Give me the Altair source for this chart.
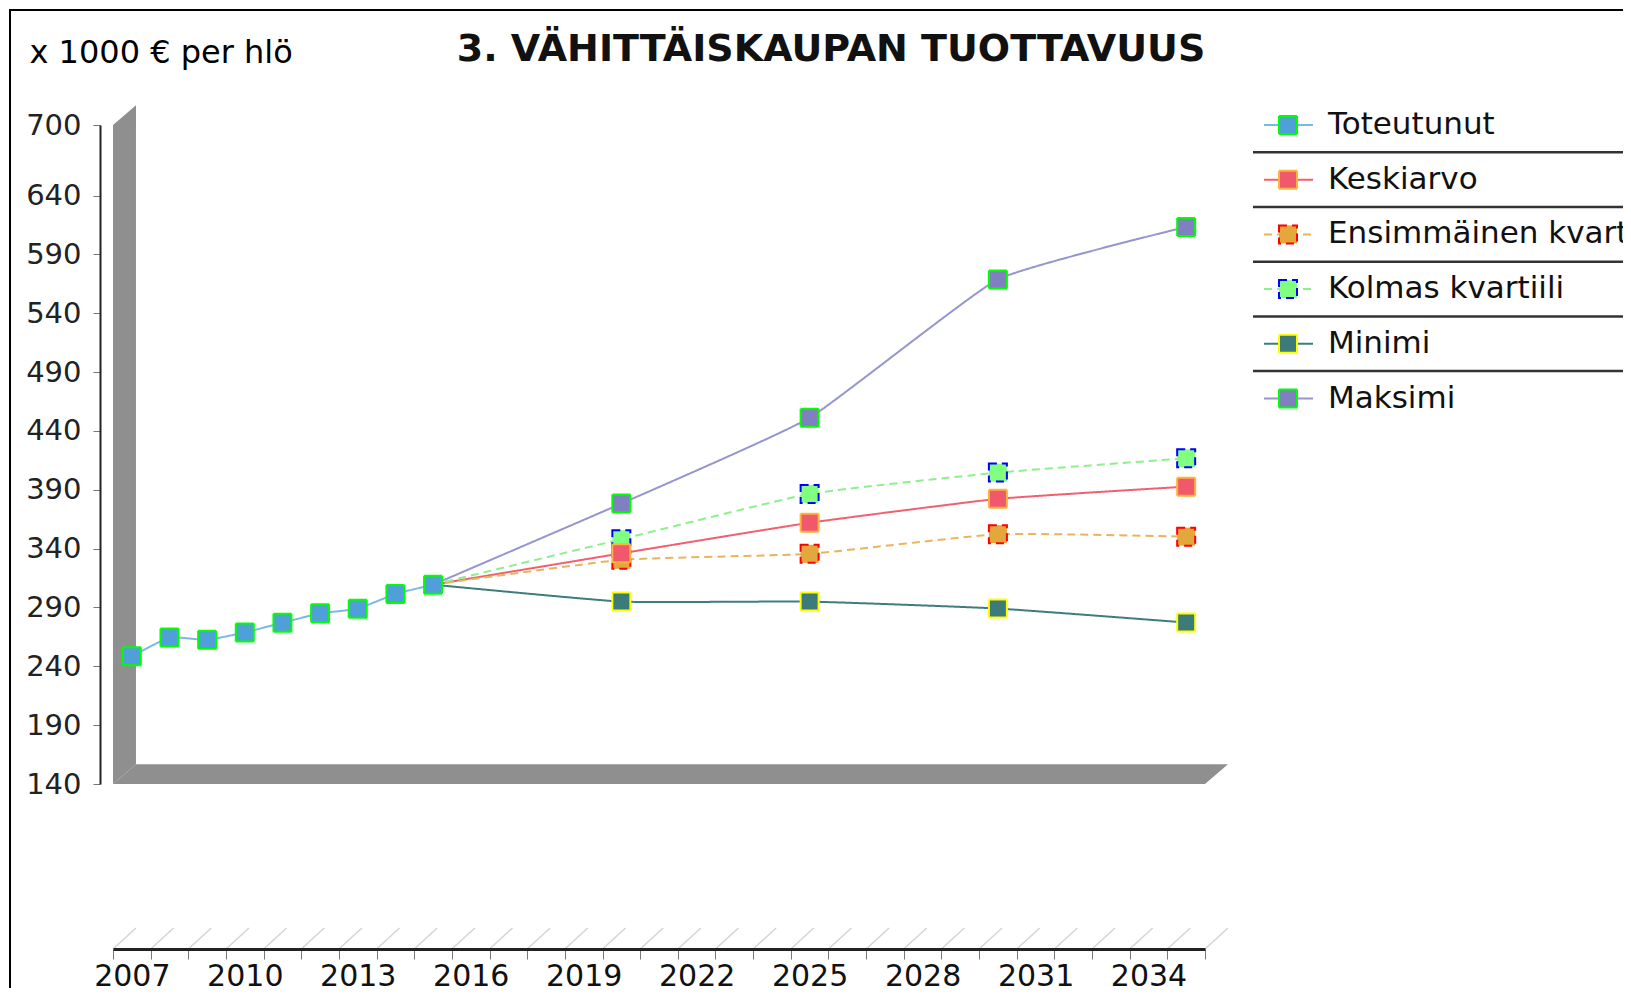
import altair as alt
import pandas as pd

# ---------------- data ----------------
title_text = "3. VÄHITTÄISKAUPAN TUOTTAVUUS"
unit_text = "x 1000 € per hlö"

series_names = ["Toteutunut", "Keskiarvo", "Ensimmäinen kvartiili",
                "Kolmas kvartiili", "Minimi", "Maksimi"]

years_actual = [2007, 2008, 2009, 2010, 2011, 2012, 2013, 2014, 2015]
toteutunut = [248.5, 264.5, 262.5, 268.8, 277.0, 285.0, 289.0, 301.5, 309.4]

years_forecast = [2015, 2020, 2025, 2030, 2035]
keskiarvo = [309.4, 336.0, 362.0, 382.3, 392.7]
ensimmainen = [309.4, 330.5, 335.6, 352.3, 350.2]
kolmas = [309.4, 348.0, 386.5, 404.6, 416.8]
minimi = [309.4, 295.0, 295.0, 289.1, 277.2]
maksimi = [309.4, 378.3, 451.2, 568.8, 613.4]

y_ticks = [140, 190, 240, 290, 340, 390, 440, 490, 540, 590, 640, 700]
x_label_years = [2007, 2010, 2013, 2016, 2019, 2022, 2025, 2028, 2031, 2034]
first_year, last_year = 2007, 2035

# ---------------- styles ----------------
line_colors = ["#7db7e6", "#f2606f", "#ebb35c", "#8cf08c", "#3f7d7d", "#9595cf"]
fill_colors = ["#4fa0d8", "#f0586b", "#e3a73b", "#80ff80", "#3d7b7b", "#8080c0"]
stroke_colors = ["#00ff00", "#ffb23c", "#ff0000", "#0000ff", "#ffff00", "#00ff00"]
dash_patterns = [[1, 0], [1, 0], [8, 5], [8, 5], [1, 0], [1, 0]]

W, H = 1092, 659
PAD = {"left": 105, "top": 117, "right": 418, "bottom": 204}
FONT = "DejaVu Sans"

# ---------------- tables ----------------
forecast = {
    "Keskiarvo": keskiarvo,
    "Ensimmäinen kvartiili": ensimmainen,
    "Kolmas kvartiili": kolmas,
    "Minimi": minimi,
    "Maksimi": maksimi,
}
rows = [{"series": "Toteutunut", "year": y, "value": v}
        for y, v in zip(years_actual, toteutunut)]
for name, vals in forecast.items():
    rows += [{"series": name, "year": y, "value": v} for y, v in zip(years_forecast, vals)]
lines_df = pd.DataFrame(rows)

draw_order = ["Toteutunut", "Maksimi", "Minimi", "Kolmas kvartiili",
              "Ensimmäinen kvartiili", "Keskiarvo"]
pts = []
for name in draw_order:
    sub = lines_df[lines_df.series == name]
    if name != "Toteutunut":
        sub = sub[sub.year > years_actual[-1]]
    pts.append(sub)
points_df = pd.concat(pts)

tick_vals = [y - 0.5 for y in range(first_year, last_year + 2)]
x_lo, x_hi = tick_vals[0], tick_vals[-1]
y_lo, y_hi = y_ticks[0], y_ticks[-1]

depth_x, depth_y = 0.61, 16.7
wall_df = pd.DataFrame({"x": [x_lo, x_lo + depth_x],
                        "y": [y_lo, y_lo + depth_y],
                        "y2": [y_hi, y_hi + depth_y]})
floor_df = pd.DataFrame({"y": [y_lo, y_lo + depth_y],
                         "x": [x_lo, x_lo + depth_x],
                         "x2": [x_hi, x_hi + depth_x]})
hatch_df = pd.DataFrame({"x": tick_vals, "x2": [t + depth_x for t in tick_vals]})
leg_df = pd.DataFrame({"series": series_names})
one = pd.DataFrame({"t": [title_text]})

# ---------------- scales / axes ----------------
xscale = alt.Scale(domain=[x_lo, x_hi], nice=False, zero=False)
yscale = alt.Scale(domain=[y_lo, y_hi], nice=False, zero=False)

label_expr = (f"indexof({x_label_years}, datum.value + 0.5) >= 0 ? "
              "format(datum.value + 0.5, 'd') : ''")
xaxis = alt.Axis(values=tick_vals, labelExpr=label_expr, title=None, offset=165,
                 domainColor="#222", domainWidth=3, tickColor="#777", tickSize=10,
                 tickWidth=1, labelFont=FONT, labelFontSize=30, labelColor="#111",
                 labelOffset=W / (x_hi - x_lo) / 2, labelPadding=2, labelFlush=False,
                 labelOverlap=False, grid=False, labelAngle=0, zindex=1)
yaxis = alt.Axis(values=y_ticks, title=unit_text, titleAngle=0, titleAlign="left",
                 titleBaseline="alphabetic", titleX=-71, titleY=-63, titleFont=FONT,
                 titleFontSize=32, titleFontWeight="normal", titleColor="#000",
                 offset=13, domainColor="#222", domainWidth=2, tickColor="#777",
                 tickSize=7, labelFont=FONT, labelFontSize=29, labelColor="#222",
                 labelPadding=12, grid=False, labelOverlap=False, labelFlush=False)


def X(field, axis=xaxis):
    return alt.X(field, type="quantitative", scale=xscale, axis=axis)


def Y(field, axis=None):
    return alt.Y(field, type="quantitative", scale=yscale, axis=axis)


color = alt.Color("series:N", scale=alt.Scale(domain=series_names, range=line_colors), legend=None)
dash = alt.StrokeDash("series:N", scale=alt.Scale(domain=series_names, range=dash_patterns), legend=None)
fill = alt.Fill("series:N", scale=alt.Scale(domain=series_names, range=fill_colors), legend=None)
stroke = alt.Stroke("series:N", scale=alt.Scale(domain=series_names, range=stroke_colors), legend=None)

# ---------------- layers ----------------
border_v = alt.Chart(one).mark_rule(color="#000", strokeWidth=2).encode(
    x=alt.value(-103), y=alt.value(-115), y2=alt.value(H + PAD["bottom"]))
border_h = alt.Chart(one).mark_rule(color="#000", strokeWidth=2).encode(
    x=alt.value(-104), x2=alt.value(W + PAD["right"]), y=alt.value(-115))

wall = alt.Chart(wall_df).mark_area(color="#8f8f8f", orient="vertical").encode(
    x=X("x"), y=Y("y"), y2="y2")
floor = alt.Chart(floor_df).mark_area(color="#8f8f8f", orient="horizontal").encode(
    y=Y("y"), x=X("x"), x2="x2")
hatch = alt.Chart(hatch_df).mark_rule(color="#d4d4d4", strokeWidth=1.5).encode(
    x=X("x"), x2="x2", y=alt.value(H + 165), y2=alt.value(H + 165 - 21))

lines = alt.Chart(lines_df).mark_line(strokeWidth=2, interpolate="cardinal", tension=0.6).encode(
    x=X("year"), y=Y("value", axis=yaxis), color=color, strokeDash=dash)
points = alt.Chart(points_df).mark_square(size=324, strokeWidth=2, opacity=1).encode(
    x=X("year"), y=Y("value"), fill=fill, stroke=stroke, strokeDash=dash)

title = alt.Chart(one).mark_text(fontSize=38, fontWeight="bold", font=FONT, align="center",
                                 baseline="alphabetic", color="#111").encode(
    x=alt.value(718), y=alt.value(-64), text="t:N")

yL = alt.Y("series:N", scale=alt.Scale(type="point", domain=series_names,
                                       range=[0, 273.5], padding=0), axis=None)
leg_sep = alt.Chart(leg_df.iloc[:-1]).mark_rule(color="#333", strokeWidth=2.5, yOffset=27.3).encode(
    x=alt.value(1140), x2=alt.value(W + PAD["right"]), y=yL)
leg_line = alt.Chart(leg_df).mark_rule(strokeWidth=2).encode(
    x=alt.value(1151), x2=alt.value(1200), y=yL, color=color, strokeDash=dash)
leg_sym = alt.Chart(leg_df).mark_square(size=324, strokeWidth=2, opacity=1).encode(
    x=alt.value(1175), y=yL, fill=fill, stroke=stroke, strokeDash=dash)
leg_text = alt.Chart(leg_df).mark_text(align="left", baseline="middle", fontSize=31,
                                       font=FONT, color="#111").encode(
    x=alt.value(1215), y=yL, text="series:N")

chart = alt.layer(
    border_v, border_h, wall, floor, hatch, lines, points, title,
    leg_sep, leg_line, leg_sym, leg_text
).resolve_scale(y="independent").properties(
    width=W, height=H, padding=PAD,
    autosize=alt.AutoSizeParams(type="none"), background="white"
).configure_view(stroke=None)

chart.save("out.html", embed_options={"renderer": "svg", "actions": False})
